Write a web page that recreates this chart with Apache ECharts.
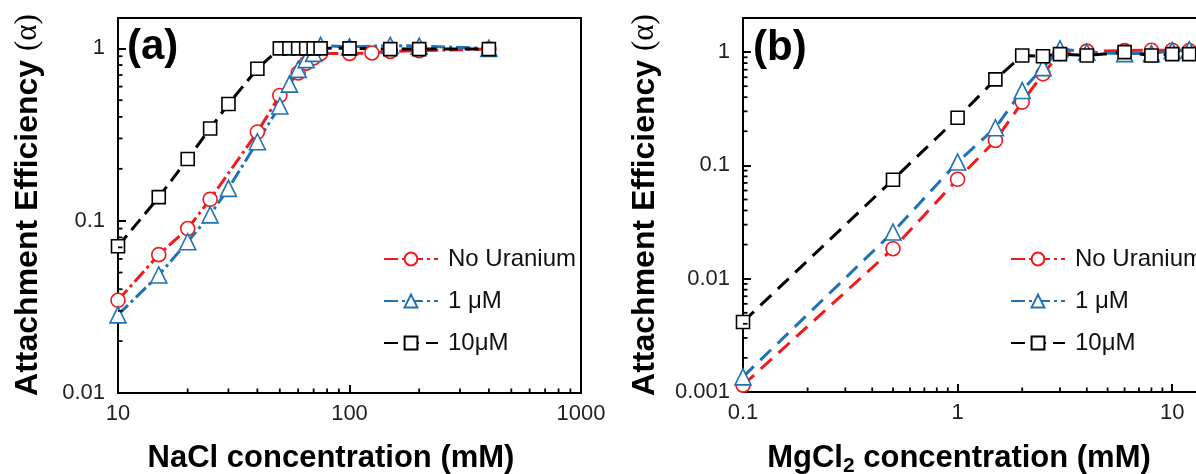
<!DOCTYPE html>
<html>
<head>
<meta charset="utf-8">
<script src="https://cdn.jsdelivr.net/npm/echarts@6/dist/echarts.min.js"></script>
<style>
html,body{margin:0;padding:0;background:#fff;}
#main{width:1196px;height:474px;}
</style>
</head>
<body>
<div id="main"></div>
<script>
// ---------- Panel (a): NaCl ----------
const naclNoU_x = [10, 15, 20, 25, 40, 50, 60, 65, 70, 75, 100, 125, 150, 200, 400];
const naclNoU_y = [0.0345, 0.0635, 0.090, 0.133, 0.327, 0.533, 0.72, 0.82, 0.88, 0.935, 0.935, 0.94, 0.96, 0.97, 0.99];
const nacl1uM_x = [10, 15, 20, 25, 30, 40, 50, 55, 60, 65, 70, 75, 100, 150, 200, 400];
const nacl1uM_y = [0.0284, 0.0484, 0.0755, 0.108, 0.154, 0.287, 0.463, 0.62, 0.755, 0.86, 0.935, 1.04, 1.02, 1.04, 1.03, 1.0];
const nacl10uM_x = [10, 15, 20, 25, 30, 40, 50, 55, 60, 65, 70, 75, 100, 150, 200, 400];
const nacl10uM_y = [0.071, 0.137, 0.228, 0.343, 0.475, 0.762, 1.0, 1.0, 1.0, 1.0, 1.0, 1.0, 1.0, 0.99, 0.99, 0.99];

// ---------- Panel (b): MgCl2 ----------
const mgNoU_x = [0.1, 0.5, 1, 1.5, 2, 2.5, 3, 4, 6, 8, 10, 12];
const mgNoU_y = [0.00115, 0.0184, 0.0754, 0.166, 0.362, 0.643, 0.97, 1.02, 1.03, 1.04, 1.04, 1.03];
const mg1uM_x = [0.1, 0.5, 1, 1.5, 2, 2.5, 3, 4, 6, 8, 10, 12];
const mg1uM_y = [0.00136, 0.0258, 0.107, 0.215, 0.458, 0.73, 1.07, 1.0, 0.97, 0.97, 1.03, 1.05];
const mg10uM_x = [0.1, 0.5, 1, 1.5, 2, 2.5, 3, 4, 6, 8, 10, 12];
const mg10uM_y = [0.00415, 0.0748, 0.263, 0.574, 0.933, 0.92, 0.96, 0.933, 1.0, 0.933, 0.96, 0.96];

// ---------- Tick labels ----------
const naclXTicks = [10, 100, 1000];
const naclYTicks = [0.01, 0.1, 1];
const mgXTicks = [0.1, 1, 10];
const mgYTicks = [0.001, 0.01, 0.1, 1];

const seriesNames = ['No Uranium', '1 \u03bcM', '10\u03bcM'];

const FONT = 'Liberation Sans, Arial, sans-serif';
const RED = '#f21a1a', BLUE = '#1f72b5', BLACK = '#000000';

function zip(xs, ys) { return xs.map((x, i) => [x, ys[i]]); }

function minorTicks(lo, hi) {
  const out = [];
  for (let k = Math.floor(Math.log10(lo)); Math.pow(10, k) < hi; k++) {
    const d = Math.pow(10, k);
    for (let m = 2; m <= 9; m++) {
      const v = +(m * d).toPrecision(6);
      if (v > lo && v < hi) out.push(v);
    }
  }
  return out;
}

function tickFormatter(ticks) {
  return function (v) {
    for (const t of ticks) {
      if (Math.abs(Math.log10(v) - Math.log10(t)) < 1e-6) return String(t);
    }
    return '';
  };
}

const axA = { xmin: 10, xmax: 1000, ymin: 0.01, ymax: 1.5 };
const axB = { xmin: 0.1, xmax: 15, ymin: 0.001, ymax: 2 };

function xAxisCfg(grid, ax, ticks) {
  return {
    type: 'log', logBase: 10, gridIndex: grid, min: ax.xmin, max: ax.xmax,
    axisLine: { show: true, lineStyle: { color: '#000', width: 2 } },
    axisTick: { show: true, inside: true, length: 8, lineStyle: { color: '#000', width: 2 } },
    minorTick: { show: false },
    splitLine: { show: false },
    axisLabel: { formatter: tickFormatter(ticks), fontSize: 22, color: '#222', fontFamily: FONT, margin: 10, showMaxLabel: true, showMinLabel: true }
  };
}
function yAxisCfg(grid, ax, ticks) {
  return {
    type: 'log', logBase: 10, gridIndex: grid, min: ax.ymin, max: ax.ymax,
    axisLine: { show: true, lineStyle: { color: '#000', width: 2 } },
    axisTick: { show: true, inside: true, length: 8, lineStyle: { color: '#000', width: 2 } },
    minorTick: { show: false },
    splitLine: { show: false },
    axisLabel: { formatter: tickFormatter(ticks), fontSize: 22, color: '#222', fontFamily: FONT, margin: 13 }
  };
}

function lineSeries(name, grid, data, color, symbol, size, dash) {
  return {
    name: name, type: 'line', xAxisIndex: grid, yAxisIndex: grid,
    data: data, symbol: symbol, symbolSize: size, showAllSymbol: true,
    lineStyle: { color: color, width: 3, type: dash },
    itemStyle: { color: '#ffffff', borderColor: color, borderWidth: 1.6 },
    emphasis: { disabled: true },
    animation: false, z: 3
  };
}

function minorTickSeries(grid, axis, values, ax) {
  const data = values.map(v => axis === 'x' ? [v, ax.ymin] : [ax.xmin, v]);
  return {
    type: 'custom', xAxisIndex: grid, yAxisIndex: grid, silent: true, animation: false, z: 4,
    clip: false,
    data: data,
    renderItem: function (params, api) {
      const p = api.coord([api.value(0), api.value(1)]);
      const shape = axis === 'x'
        ? { x1: p[0], y1: p[1], x2: p[0], y2: p[1] - 4.5 }
        : { x1: p[0], y1: p[1], x2: p[0] + 4.5, y2: p[1] };
      return { type: 'line', shape: shape, style: { stroke: '#000', lineWidth: 1.8 } };
    }
  };
}

const chart = echarts.init(document.getElementById('main'), null, { renderer: 'canvas' });

const option = {
  backgroundColor: '#ffffff',
  animation: false,
  grid: [
    { left: 118, top: 18, width: 463, height: 375, show: true, borderColor: '#000', borderWidth: 2, backgroundColor: 'transparent', outerBoundsMode: 'none', containLabel: false },
    { left: 743, top: 18, width: 467, height: 374, show: true, borderColor: '#000', borderWidth: 2, backgroundColor: 'transparent', outerBoundsMode: 'none', containLabel: false }
  ],
  xAxis: [xAxisCfg(0, axA, naclXTicks), xAxisCfg(1, axB, mgXTicks)],
  yAxis: [yAxisCfg(0, axA, naclYTicks), yAxisCfg(1, axB, mgYTicks)],
  legend: [
    {
      left: 378, top: 242, orient: 'vertical', itemWidth: 54, itemHeight: 16, itemGap: 18,
      data: seriesNames, selectedMode: false,
      textStyle: { fontSize: 24, color: '#111', fontFamily: FONT, padding: [0, 0, 0, 5] }
    },
    {
      left: 1005, top: 242, orient: 'vertical', itemWidth: 54, itemHeight: 16, itemGap: 18,
      data: seriesNames, selectedMode: false,
      textStyle: { fontSize: 24, color: '#111', fontFamily: FONT, padding: [0, 0, 0, 5] }
    }
  ],
  series: [
    lineSeries(seriesNames[0], 0, zip(naclNoU_x, naclNoU_y), RED, 'circle', 14, [14, 4, 3, 4]),
    lineSeries(seriesNames[1], 0, zip(nacl1uM_x, nacl1uM_y), BLUE, 'triangle', 16, [14, 4, 3, 4]),
    lineSeries(seriesNames[2], 0, zip(nacl10uM_x, nacl10uM_y), BLACK, 'rect', 13, [14, 7]),
    lineSeries(seriesNames[0], 1, zip(mgNoU_x, mgNoU_y), RED, 'circle', 14, [15, 9]),
    lineSeries(seriesNames[1], 1, zip(mg1uM_x, mg1uM_y), BLUE, 'triangle', 16, [15, 9]),
    lineSeries(seriesNames[2], 1, zip(mg10uM_x, mg10uM_y), BLACK, 'rect', 13, [15, 9]),
    minorTickSeries(0, 'x', minorTicks(axA.xmin, axA.xmax), axA),
    minorTickSeries(0, 'y', minorTicks(axA.ymin, axA.ymax), axA),
    minorTickSeries(1, 'x', minorTicks(axB.xmin, axB.xmax), axB),
    minorTickSeries(1, 'y', minorTicks(axB.ymin, axB.ymax), axB)
  ],
  graphic: [
    { type: 'text', left: 127, top: 26, style: { text: '(a)', fontSize: 42, fontWeight: 'bold', fontFamily: FONT, fill: '#000' } },
    { type: 'text', left: 753, top: 27, style: { text: '(b)', fontSize: 42, fontWeight: 'bold', fontFamily: FONT, fill: '#000' } },
    { type: 'text', x: 331, y: 458, style: { text: 'NaCl concentration (mM)', fontSize: 31, fontWeight: 'bold', fontFamily: FONT, fill: '#000', align: 'center', verticalAlign: 'middle' } },
    { type: 'text', x: 959, y: 458, style: {
        text: '{b|MgCl}{s|2}{b| concentration (mM)}', align: 'center', verticalAlign: 'middle',
        rich: {
          b: { fontSize: 31, fontWeight: 'bold', fontFamily: FONT, fill: '#000', lineHeight: 34 },
          s: { fontSize: 21, fontWeight: 'bold', fontFamily: FONT, fill: '#000', padding: [16, 0, 0, 0] }
        } } },
    { type: 'text', x: 28, y: 205, rotation: Math.PI / 2, style: {
        text: '{b|Attachment Efficiency }{n|(\u03b1)}', align: 'center', verticalAlign: 'middle',
        rich: {
          b: { fontSize: 32, fontWeight: 'bold', fontFamily: FONT, fill: '#000' },
          n: { fontSize: 31, fontFamily: 'Liberation Serif, serif', fill: '#000' }
        } } },
    { type: 'text', x: 645, y: 205, rotation: Math.PI / 2, style: {
        text: '{b|Attachment Efficiency }{n|(\u03b1)}', align: 'center', verticalAlign: 'middle',
        rich: {
          b: { fontSize: 32, fontWeight: 'bold', fontFamily: FONT, fill: '#000' },
          n: { fontSize: 31, fontFamily: 'Liberation Serif, serif', fill: '#000' }
        } } }
  ]
};
chart.setOption(option);
</script>
</body>
</html>
